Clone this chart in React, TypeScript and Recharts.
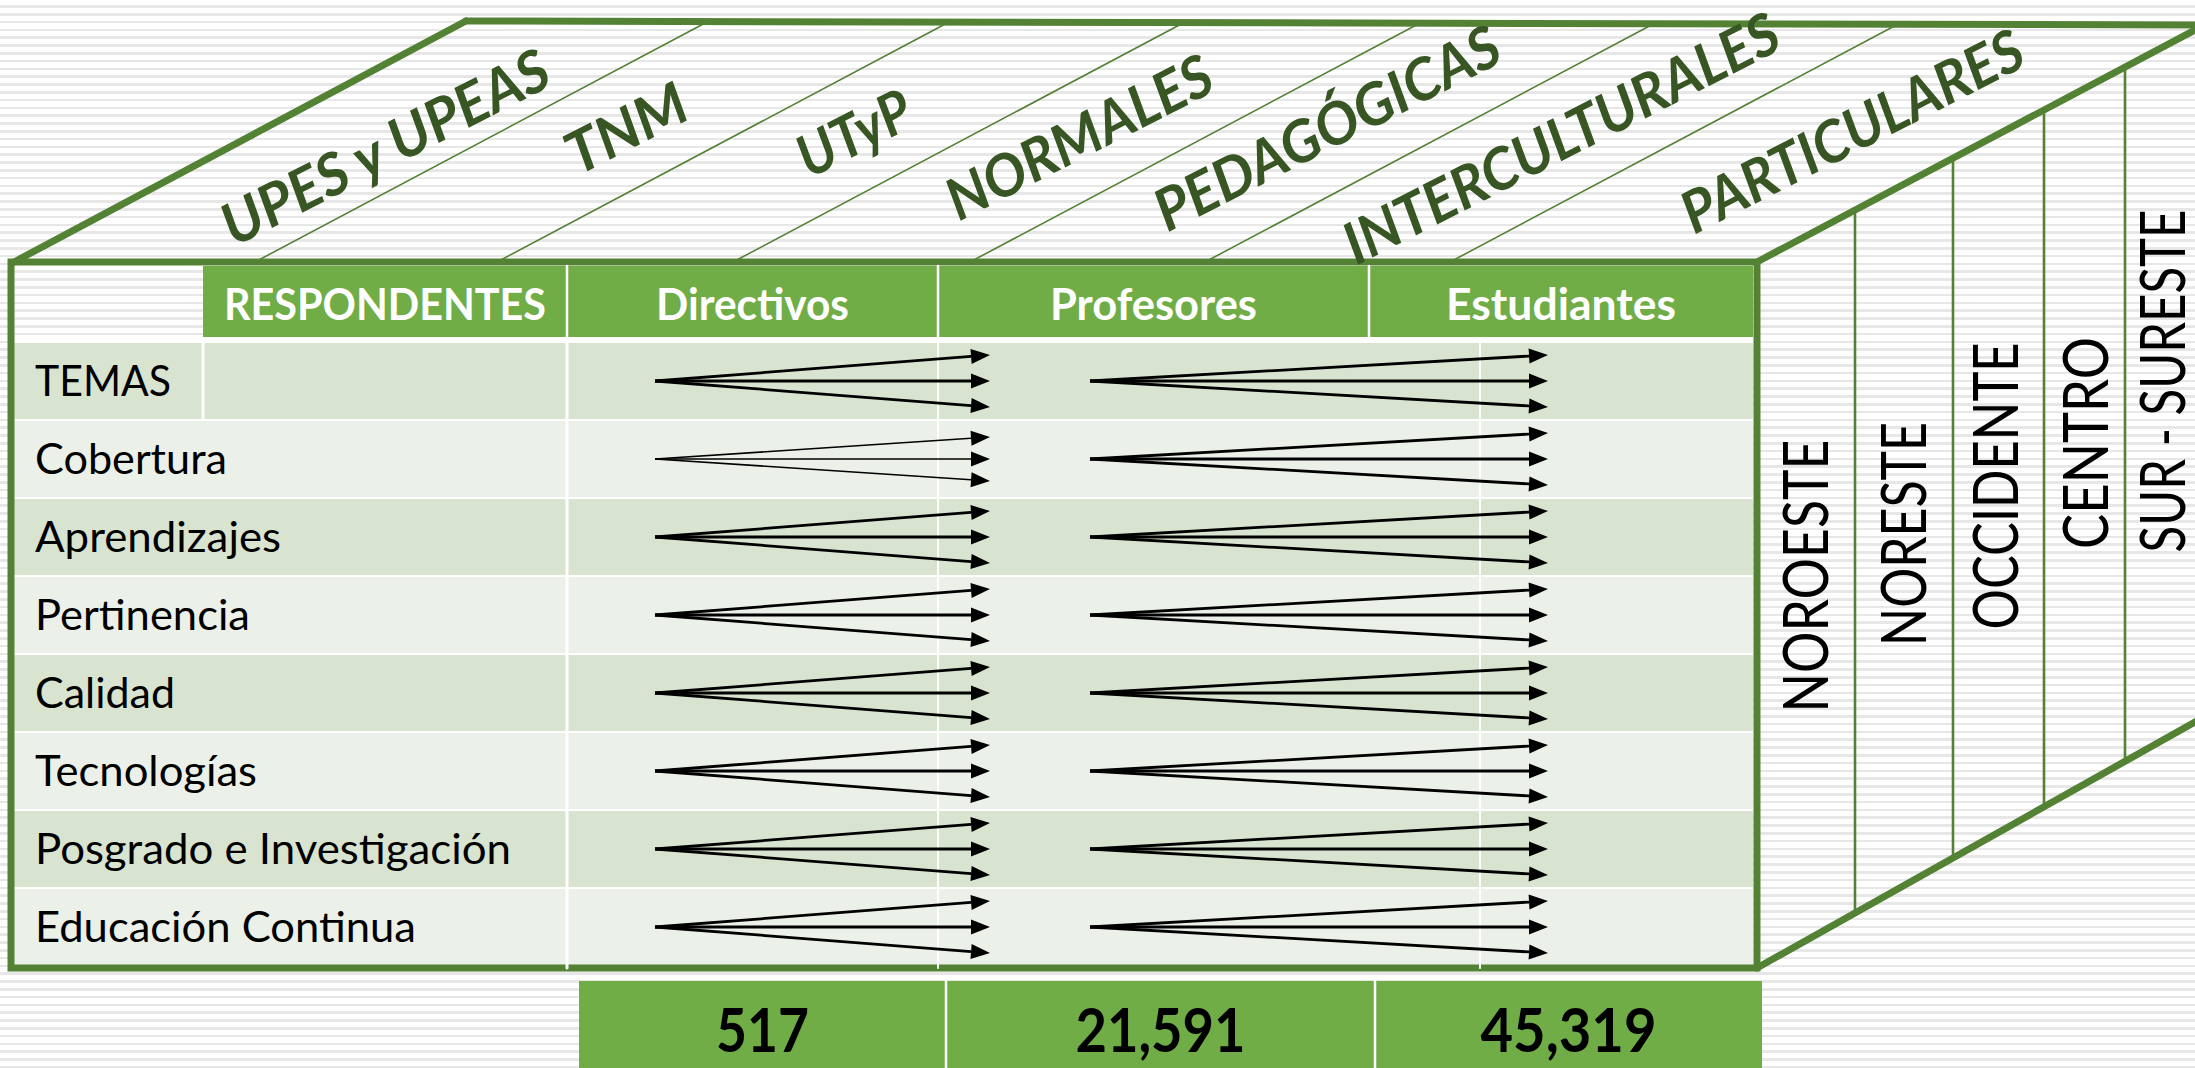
import React from 'react';
import { ComposedChart, XAxis, YAxis, ReferenceArea, ReferenceLine, ReferenceDot } from 'recharts';

// ---- data ----
const temas = ['TEMAS', 'Cobertura', 'Aprendizajes', 'Pertinencia', 'Calidad', 'Tecnologías', 'Posgrado e Investigación', 'Educación Continua'];
const encabezados = ['RESPONDENTES', 'Directivos', 'Profesores', 'Estudiantes'];
const totales = [517, 21591, 45319];
const subsistemas = ['UPES y UPEAS', 'TNM', 'UTyP', 'NORMALES', 'PEDAGÓGICAS', 'INTERCULTURALES', 'PARTICULARES'];
const regiones = ['NOROESTE', 'NORESTE', 'OCCIDENTE', 'CENTRO', 'SUR - SURESTE'];

// ---- layout (pixel space of the chart scales) ----
const W = 2195;
const H = 1068;
const GREEN_DARK = '#548235';
const GREEN = '#70AD47';
const TEXT_GREEN = '#375623';
const ROW_DARK = '#D8E4D0';
const ROW_LIGHT = '#EBF0E8';
const FONT = 'Lato, "Open Sans", sans-serif';

const front = { x1: 11, y1: 262, x2: 1757, y2: 968 };
const headerY = [266, 337];
const headerX = [203, 567, 938, 1369, 1753];
const rowTop = 343;
const rowH = 78;
const rowLabelLen = [136, 192, 246, 215, 140, 222, 476, 381];
const headerLen = [322, 193, 207, 230];
const totalX = [579, 946, 1375, 1762];
const totalLen = [93, 170, 176];
const topLabelPos = [
  [385, 147, 360], [626, 128, 129], [854, 133, 121], [1079, 137, 291],
  [1327, 128, 380], [1561, 138, 481], [1852, 131, 376],
];
const topDividers = [255, 497, 733, 970, 1205, 1450];
const regionPos = [[1806, 576, 273], [1904, 534, 224], [1996, 486, 287], [2086, 443, 212], [2163, 381, 343]];
const regionDividers = [1855, 1953, 2044, 2125];
const arrowGroups = [{ tail: 655, tip: 990 }, { tail: 1090, tip: 1548 }];

const topDiag = (x: number) => 262 + ((x - 1757) * (30 - 262)) / (W - 1757);
const botDiag = (x: number) => 968 + ((x - 1757) * (722 - 968)) / (W - 1757);

type TxtOpts = {
  text: string;
  size: number;
  weight?: number;
  italic?: boolean;
  color: string;
  angle?: number;
  len?: number;
  anchor?: 'start' | 'middle';
};

const txt = (o: TxtOpts) => (p: any) => {
  const { cx, cy } = p;
  const a = o.angle ?? 0;
  return (
    <text
      x={cx}
      y={cy + o.size * 0.36}
      textAnchor={o.anchor ?? 'middle'}
      fontFamily={FONT}
      fontSize={o.size}
      fontWeight={o.weight ?? 400}
      fontStyle={o.italic ? 'italic' : 'normal'}
      fill={o.color}
      textLength={o.len}
      lengthAdjust="spacingAndGlyphs"
      transform={a ? `rotate(${a} ${cx} ${cy})` : undefined}
    >
      {o.text}
    </text>
  );
};

const arrowShape = (w: number) => (p: any) => {
  const { x1, y1, x2, y2 } = p;
  const ang = Math.atan2(y2 - y1, x2 - x1);
  const L = 19;
  const hw = 7.5;
  const bx = x2 - L * Math.cos(ang);
  const by = y2 - L * Math.sin(ang);
  const nx = -Math.sin(ang) * hw;
  const ny = Math.cos(ang) * hw;
  return (
    <g>
      <line x1={x1} y1={y1} x2={bx} y2={by} stroke="#000" strokeWidth={w} />
      <polygon points={`${x2},${y2} ${bx + nx},${by + ny} ${bx - nx},${by - ny}`} fill="#000" />
    </g>
  );
};

const seg = (key: string, ax: number, ay: number, bx: number, by: number, stroke: string, w: number) => (
  <ReferenceLine
    key={key}
    segment={[{ x: ax, y: ay }, { x: bx, y: by }]}
    stroke={stroke}
    strokeWidth={w}
    strokeLinecap="round"
    ifOverflow="visible"
  />
);

const area = (key: string, x1: number, x2: number, y1: number, y2: number, fill: string) => (
  <ReferenceArea key={key} x1={x1} x2={x2} y1={y1} y2={y2} fill={fill} fillOpacity={1} stroke="none" ifOverflow="visible" />
);

const dot = (key: string, x: number, y: number, shape: any) => (
  <ReferenceDot key={key} x={x} y={y} r={1} ifOverflow="visible" shape={shape} />
);

export default function App() {
  const rowY = (i: number) => rowTop + i * rowH;

  return (
    <div
      style={{
        position: 'absolute',
        left: 0,
        top: 0,
        width: W,
        height: H,
        background: 'repeating-linear-gradient(180deg, #ffffff 0px, #ffffff 5.2px, #e7e7e7 5.2px, #e7e7e7 7.8px)',
      }}
    >
      <ComposedChart width={W} height={H} margin={{ top: 0, right: 0, bottom: 0, left: 0 }}>
        <XAxis type="number" dataKey="x" domain={[0, W]} hide height={0} allowDataOverflow />
        <YAxis type="number" dataKey="y" domain={[0, H]} reversed hide width={0} allowDataOverflow />

        {/* front face: header and rows */}
        {area('hdr', headerX[0], headerX[4], headerY[0], headerY[1], GREEN)}
        {area('rowsbg', 14, 1753, headerY[1], front.y2, '#ffffff')}
        {temas.map((_, i) => area(`row${i}`, 14, 1753, rowY(i), rowY(i) + rowH - 2, i % 2 === 0 ? ROW_DARK : ROW_LIGHT))}
        {headerX.slice(1, 4).map((x, i) => seg(`hsep${i}`, x, headerY[0], x, headerY[1], '#ffffff', 2.5))}
        {seg('temasSep', headerX[0], rowY(0), headerX[0], rowY(0) + rowH - 2, '#ffffff', 3)}
        {seg('colSep1', headerX[1], rowY(0), headerX[1], front.y2, '#ffffff', 3)}
        {seg('colSep2', headerX[2], rowY(0), headerX[2], front.y2, '#ffffff', 2)}
        {seg('colSep3', 1480, rowY(0), 1480, front.y2, '#ffffff', 2)}

        {/* top face */}
        {topDividers.map((x, i) => seg(`tdiv${i}`, x, 262, x + 452, 22, GREEN_DARK, 1.6))}
        {seg('tl', 14, 262, 466, 21, GREEN_DARK, 7)}
        {seg('tb', 466, 21, W + 5, 25, GREEN_DARK, 7)}
        {seg('tr', 1757, 262, W + 5, topDiag(W + 5), GREEN_DARK, 7)}

        {/* right face */}
        {regionDividers.map((x, i) => seg(`rdiv${i}`, x, topDiag(x), x, botDiag(x), GREEN_DARK, 2.6))}
        {seg('rb', 1757, 968, W + 5, botDiag(W + 5), GREEN_DARK, 7)}

        {/* frame */}
        <ReferenceArea
          x1={front.x1}
          x2={front.x2}
          y1={front.y1}
          y2={front.y2}
          fill="none"
          fillOpacity={0}
          stroke={GREEN_DARK}
          strokeWidth={7}
          ifOverflow="visible"
        />

        {/* totals */}
        {area('tot', totalX[0], totalX[3], 981, H, GREEN)}
        {totalX.slice(1, 3).map((x, i) => seg(`tsep${i}`, x, 981, x, H, '#ffffff', 2.5))}
        {totales.map((v, i) =>
          dot(
            `tv${i}`,
            (totalX[i] + totalX[i + 1]) / 2,
            1030,
            txt({ text: v.toLocaleString('en-US'), size: 61, weight: 700, color: '#000', len: totalLen[i] })
          )
        )}

        {/* header labels */}
        {encabezados.map((t, i) =>
          dot(
            `h${i}`,
            (headerX[i] + headerX[i + 1]) / 2,
            305,
            txt({ text: t, size: 43, weight: 700, color: '#ffffff', len: headerLen[i] })
          )
        )}

        {/* row labels */}
        {temas.map((t, i) =>
          dot(
            `r${i}`,
            35,
            rowY(i) + 38,
            txt({ text: t, size: 43, color: '#000', len: rowLabelLen[i], anchor: 'start' })
          )
        )}

        {/* arrows */}
        {temas.map((_, i) =>
          arrowGroups.map((g, gi) => {
            const cy = rowY(i) + 38;
            const thin = i === 1 && gi === 0;
            const spread = thin ? 22 : 26;
            return [-1, 0, 1].map((d) => (
              <ReferenceLine
                key={`a${i}-${gi}-${d}`}
                segment={[{ x: g.tail, y: cy }, { x: g.tip, y: cy + d * spread }]}
                stroke="#000"
                ifOverflow="visible"
                shape={arrowShape(thin ? 1.6 : 2.8)}
              />
            ));
          })
        )}

        {/* top face labels */}
        {subsistemas.map((t, i) =>
          dot(
            `s${i}`,
            topLabelPos[i][0],
            topLabelPos[i][1],
            txt({ text: t, size: 58, weight: 700, italic: true, color: TEXT_GREEN, angle: -27, len: topLabelPos[i][2] })
          )
        )}

        {/* right face labels */}
        {regiones.map((t, i) =>
          dot(
            `g${i}`,
            regionPos[i][0],
            regionPos[i][1],
            txt({ text: t, size: 61, color: '#000', angle: -90, len: regionPos[i][2] })
          )
        )}
      </ComposedChart>
    </div>
  );
}
